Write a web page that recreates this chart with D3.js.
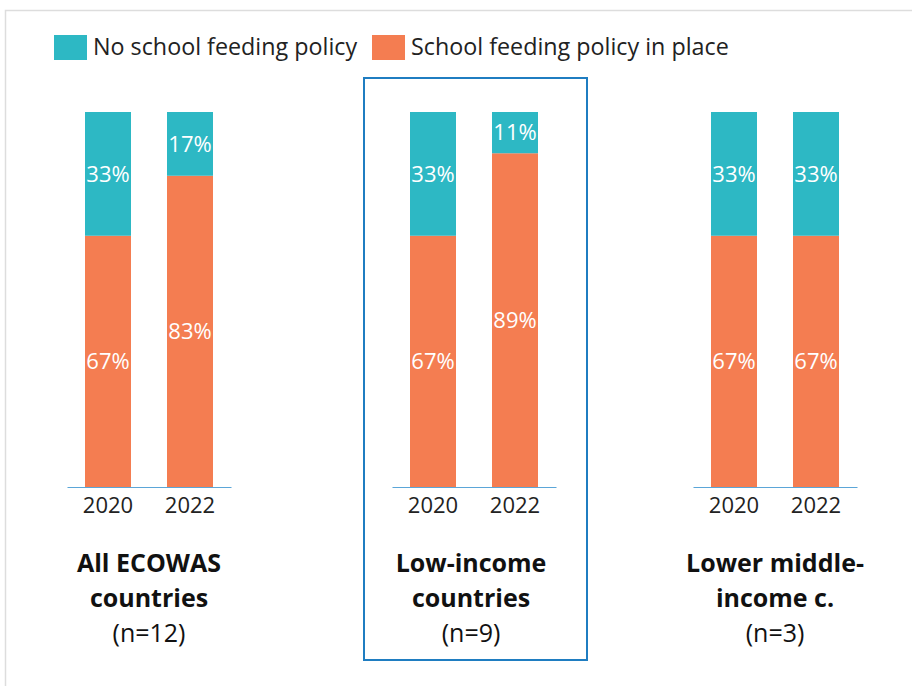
<!DOCTYPE html>
<html>
<head>
<meta charset="utf-8">
<script src="https://cdn.jsdelivr.net/npm/d3@7"></script>
<style>
  body { margin: 0; background: #fff; }
  text { font-family: "Open Sans", sans-serif; }
</style>
</head>
<body>
<script>
var groups = ["All ECOWAS countries", "Low-income countries", "Lower middle-income c."];
var titleLines = [["All ECOWAS", "countries", "(n=12)"], ["Low-income", "countries", "(n=9)"], ["Lower middle-", "income c.", "(n=3)"]];
var years = ["2020", "2022"];
var noPolicy = [[33, 17], [33, 11], [33, 33]];
var policy = [[67, 83], [67, 89], [67, 67]];
var seriesNames = ["No school feeding policy", "School feeding policy in place"];
var colors = ["#2DB8C4", "#F47D51"];

var w = 912, h = 686;
var svg = d3.select("body").append("svg").attr("width", w).attr("height", h);

// outer frame
svg.append("path")
    .attr("d", "M5.5," + h + "V10.5H" + w)
    .attr("fill", "none").attr("stroke", "#ddd").attr("stroke-width", 1.5);

var groupX = d3.scaleOrdinal().domain(groups).range([149, 474, 775]);
var y = d3.scaleLinear().domain([0, 100]).range([487, 112]);
var xInner = d3.scaleBand().domain(years).range([-82, 82])
    .paddingInner(36 / 82).paddingOuter(18 / 82);

// highlight box round the middle group
svg.append("rect")
    .attr("x", groupX(groups[1]) - 110).attr("y", 78).attr("width", 223).attr("height", 582)
    .attr("fill", "none").attr("stroke", "#1F7DC1").attr("stroke-width", 2);

var g = svg.selectAll(".grp").data(groups).enter().append("g")
    .attr("class", "grp")
    .attr("transform", function(d) { return "translate(" + groupX(d) + ",0)"; });

g.each(function(gname, gi) {
    var sel = d3.select(this);
    years.forEach(function(yr, yi) {
        var x0 = xInner(yr), bw = xInner.bandwidth();
        var p = policy[gi][yi], n = noPolicy[gi][yi];
        sel.append("rect").attr("x", x0).attr("width", bw)
            .attr("y", y(p)).attr("height", y(0) - y(p)).attr("fill", colors[1]);
        sel.append("rect").attr("x", x0).attr("width", bw)
            .attr("y", y(p + n)).attr("height", y(p) - y(p + n)).attr("fill", colors[0]);
        sel.append("text").attr("x", x0 + bw / 2).attr("y", (y(0) + y(p)) / 2)
            .attr("dy", "0.35em").attr("text-anchor", "middle")
            .attr("fill", "#fff").attr("font-size", 22).text(p + "%");
        sel.append("text").attr("x", x0 + bw / 2).attr("y", (y(p) + y(p + n)) / 2)
            .attr("dy", "0.35em").attr("text-anchor", "middle")
            .attr("fill", "#fff").attr("font-size", 22).text(n + "%");
    });
    var axis = d3.axisBottom(xInner).tickSize(0).tickPadding(10);
    var ax = sel.append("g").attr("transform", "translate(0," + y(0) + ")").call(axis);
    ax.select(".domain").attr("stroke", "#5BA6D8").attr("stroke-width", 1.2);
    ax.selectAll("text").attr("font-size", 22).attr("fill", "#222")
        .style("font-family", "'Open Sans', sans-serif");
    titleLines[gi].forEach(function(line, li) {
        sel.append("text").attr("x", gi === 1 ? -3 : 0).attr("y", 572 + li * 35)
            .attr("text-anchor", "middle").attr("fill", "#111")
            .attr("font-size", 25)
            .attr("font-weight", li < 2 ? "bold" : "normal")
            .text(line);
    });
});

// legend
var legend = svg.append("g").attr("class", "legend");
var lx = [54, 372];
seriesNames.forEach(function(s, i) {
    legend.append("rect").attr("x", lx[i]).attr("y", 35).attr("width", 33).attr("height", 25)
        .attr("fill", colors[i]);
    legend.append("text").attr("x", lx[i] + 39).attr("y", 47).attr("dy", "0.35em")
        .attr("font-size", 23.3).attr("fill", "#222").text(s);
});
</script>
</body>
</html>
